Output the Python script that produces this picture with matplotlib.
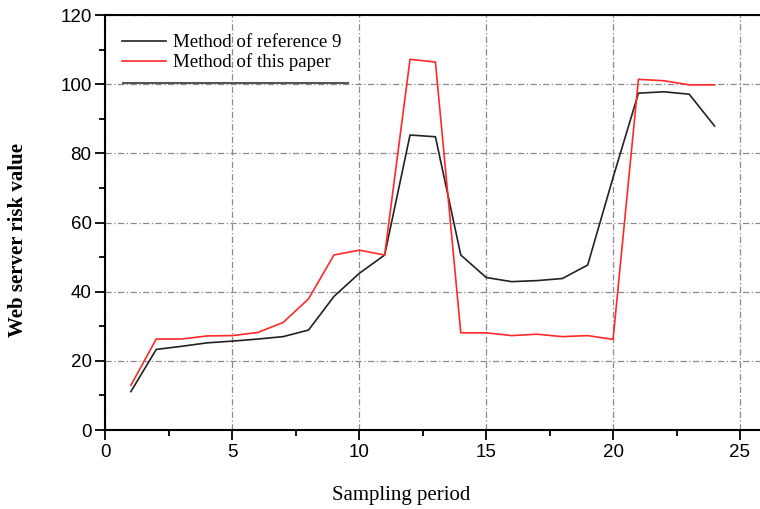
import matplotlib
matplotlib.use("Agg")
import matplotlib.pyplot as plt
from matplotlib.lines import Line2D
from matplotlib.ticker import MultipleLocator

periods = list(range(1, 25))
ref9 = [11.1, 23.3, 24.2, 25.2, 25.7, 26.3, 27.0, 28.9, 38.6, 45.3, 50.6, 85.3,
        84.8, 50.6, 44.1, 42.9, 43.2, 43.8, 47.7, 73.0, 97.4, 97.8, 97.1, 87.9]
this_paper = [12.9, 26.3, 26.3, 27.2, 27.3, 28.2, 31.1, 37.9, 50.6, 52.0, 50.6, 107.2,
              106.4, 28.1, 28.1, 27.3, 27.7, 27.0, 27.3, 26.2, 101.4, 101.0, 99.8, 99.8]
labels = ["Method of reference 9", "Method of this paper"]

fig = plt.figure(figsize=(7.6, 5.09), dpi=100)
ax = fig.add_axes([0.1388, 0.1552, 0.8612, 0.8153])

ax.plot(periods, ref9, color="#222222", lw=1.2, label=labels[0])
ax.plot(periods, this_paper, color="#ff2a2a", lw=1.2, label=labels[1])

ax.set_xlim(0, 25.79)
ax.set_ylim(0, 120)
ax.xaxis.set_major_locator(MultipleLocator(5))
ax.xaxis.set_minor_locator(MultipleLocator(2.5))
ax.yaxis.set_major_locator(MultipleLocator(20))
ax.yaxis.set_minor_locator(MultipleLocator(10))

ax.grid(True, which="major", color="#8a8a8a", lw=0.9, ls=(0, (5, 2, 1, 2)))
ax.set_axisbelow(True)

for s in ["left", "bottom", "top"]:
    ax.spines[s].set_linewidth(1.5)
ax.spines["right"].set_visible(False)
ax.tick_params(which="major", direction="out", length=7, width=1.3, pad=3,
               labelsize=13.5, top=False, right=False)
ax.tick_params(which="minor", direction="out", length=4, width=1.3, top=False, right=False)
for lab in ax.get_xticklabels() + ax.get_yticklabels():
    lab.set_fontfamily("Liberation Sans")

ax.set_xlabel("Sampling period", fontfamily="Liberation Serif", fontsize=15)
ax.set_ylabel("Web server risk value", fontfamily="Liberation Serif", fontsize=15,
              fontweight="bold")
ax.xaxis.label.set_va("center")
ax.xaxis.label.set_ha("center")
ax.yaxis.label.set_va("center")
ax.yaxis.label.set_ha("center")
ax.xaxis.set_label_coords((401 - 105.5) / 654.5, -(495 - 430) / 415.0)
ax.yaxis.set_label_coords(-(105.5 - 18) / 654.5, (430 - 240) / 415.0)

leg = ax.legend(loc="upper left", bbox_to_anchor=(0.0, 0.995), frameon=False,
                prop={"family": "Liberation Serif", "size": 13.6},
                handlelength=2.3, handletextpad=0.35, labelspacing=0.12)

ax.add_line(Line2D([0.027, 0.37], [0.836, 0.836], transform=ax.transAxes,
                   color="#555555", lw=1.5))

fig.savefig("out.png", dpi=100)
